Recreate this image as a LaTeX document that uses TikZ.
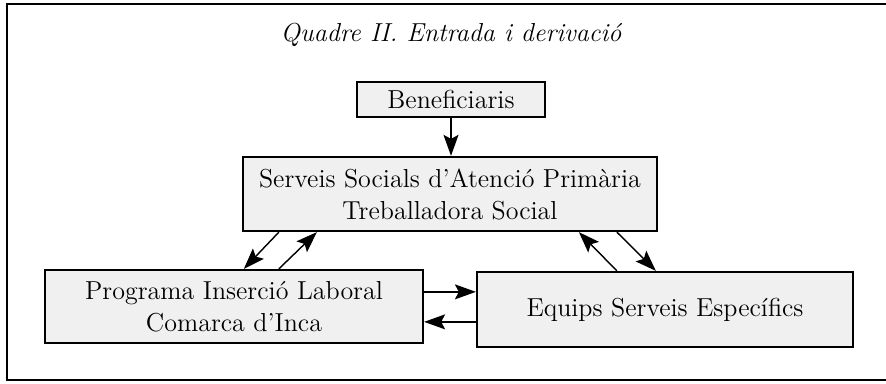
\documentclass[tikz,border=0pt]{standalone}
\usepackage{fontspec}
\usetikzlibrary{arrows.meta,calc}
\begin{document}
\begin{tikzpicture}[x=0.5pt,y=-0.5pt,
    caixa/.style={draw,line width=0.04cm,fill=black!6,align=center,inner sep=0pt,
      font=\fontsize{13}{16}\selectfont},
    fletxa/.style={line width=0.025cm,-{Stealth[length=10.5pt,width=7.5pt,inset=2pt]}}]
  \useasboundingbox (0,0) rectangle (886,384);
  {
  % Drawing frame
  \draw [line width=0.035cm] (896,4) -- (7,4) -- (7,380) -- (896,380);%

  % Drawing title
  \node (titol) at (451,35) {\fontsize{13}{16}\selectfont\itshape Quadre II. Entrada i derivació};%

  % Drawing box Beneficiaris
  \node [caixa, minimum width=94pt, minimum height=17.5pt] (benef) at (451,99.5) {Beneficiaris};%

  % Drawing box Serveis Socials
  \node [caixa, minimum width=207pt, minimum height=37pt] (serveis) at (450,194)
    {Serveis Socials d’Atenció Primària\\Treballadora Social};%

  % Drawing box Programa Insercio
  \node [caixa, minimum width=189pt, minimum height=36.5pt] (programa) at (234,306.5)
    {Programa Inserció Laboral\\Comarca d’Inca};%

  % Drawing box Equips
  \node [caixa, minimum width=188pt, minimum height=37.5pt] (equips) at (665,309.5)
    {Equips Serveis Específics};%

  % Drawing arrow Beneficiaris -> Serveis
  \draw [fletxa] (benef.south) -- (benef.south |- serveis.north);%

  % Drawing arrows Serveis <-> Programa
  \draw [fletxa] ($(serveis.south west)+(37,0)$) -- ($(programa.north west)+(200,0)$);%
  \draw [fletxa] ($(programa.north west)+(235,0)$) -- ($(serveis.south west)+(75,0)$);%

  % Drawing arrows Serveis <-> Equips
  \draw [fletxa] ($(equips.north west)+(141,0)$) -- ($(serveis.south west)+(337,0)$);%
  \draw [fletxa] ($(serveis.south west)+(375,0)$) -- ($(equips.north west)+(180,0)$);%

  % Drawing arrows Programa <-> Equips
  \draw [fletxa] ($(programa.north east)+(0,23)$) -- ($(equips.north west)+(0,21)$);%
  \draw [fletxa] ($(equips.north west)+(0,51)$) -- ($(programa.north east)+(0,53)$);%
  }
\end{tikzpicture}
\end{document}
